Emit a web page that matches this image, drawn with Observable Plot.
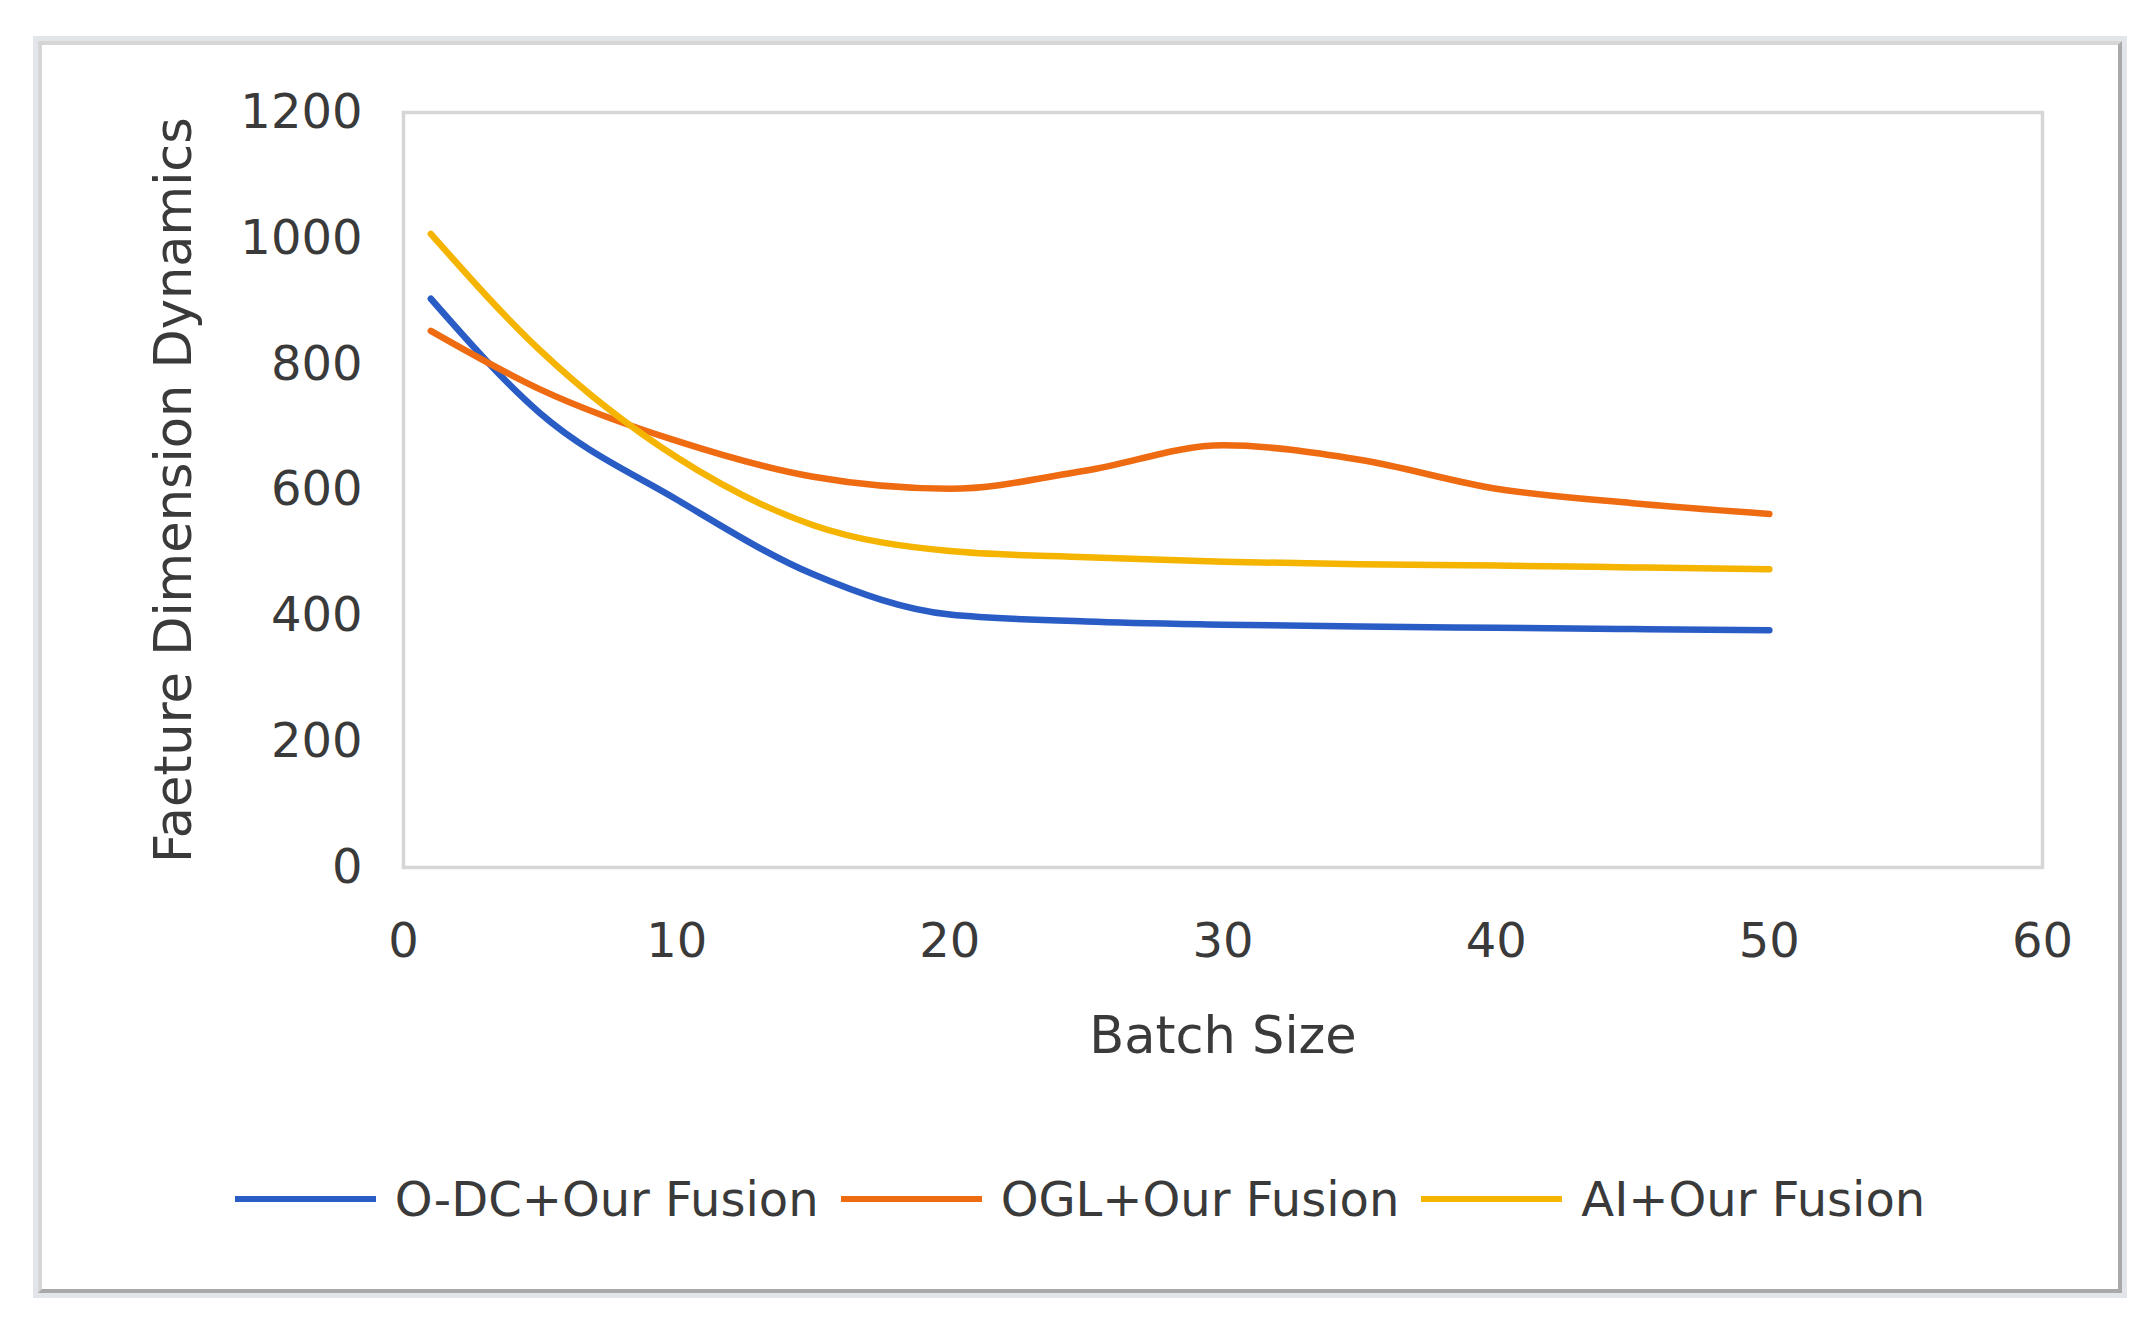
<!DOCTYPE html>
<html>
<head>
<meta charset="utf-8">
<script src="https://cdn.jsdelivr.net/npm/d3@7"></script>
<script src="https://cdn.jsdelivr.net/npm/@observablehq/plot@0.6"></script>
<style>
  html, body { margin: 0; padding: 0; background: #fff; overflow: hidden; width: 2142px; height: 1328px; }
  #frame { position: absolute; left: 33px; top: 36px; width: 2094px; height: 1262px; box-sizing: border-box; border: 5px solid #e2e5e9; }
  #frame-inner { position: absolute; left: 0; top: 0; right: 0; bottom: 0; border-style: solid; border-width: 4px; border-color: #d6d6d6 #a9a9a9 #a9a9a9 #d6d6d6; background: #fff; }
  #chart { position: absolute; left: 0; top: 0; }
  #legend { position: absolute; left: 33px; width: 2094px; top: 1170px; height: 58px; display: flex; justify-content: center; align-items: center;
            font-family: "DejaVu Sans", sans-serif; font-size: 48px; color: #3a3a3a; }
  .item { display: flex; align-items: center; margin: 0 11px; }
  .sw { display: inline-block; width: 141px; height: 6px; margin-right: 19px; }
</style>
</head>
<body>
<div id="frame"><div id="frame-inner"></div></div>
<div id="chart"></div>
<div id="legend"></div>
<script>
// ---- data ----
const batchSizes = [1, 5, 10, 15, 20, 25, 30, 35, 40, 45, 50];
const odcFusion = [904, 722, 585, 466, 402, 391, 386, 383, 381, 379, 377];
const oglFusion = [853, 760, 678, 621, 602, 631, 671, 648, 602, 579, 562];
const aiFusion  = [1007, 822, 652, 544, 503, 493, 486, 482, 480, 477, 474];
const seriesNames = ["O-DC+Our Fusion", "OGL+Our Fusion", "AI+Our Fusion"];
const seriesColors = ["#2a5cc6", "#ee6b12", "#f4b400"];
const xTicks = [0, 10, 20, 30, 40, 50, 60];
const yTicks = [0, 200, 400, 600, 800, 1000, 1200];
const xTitle = "Batch Size";
const yTitle = "Faeture Dimension Dynamics";

const seriesValues = [odcFusion, oglFusion, aiFusion];
const rows = seriesNames.flatMap((name, s) =>
  batchSizes.map((x, i) => ({series: name, x, y: seriesValues[s][i]}))
);

const H = 1100;
const chart = Plot.plot({
  width: 2142,
  height: H,
  marginLeft: 403,
  marginRight: 100,
  marginTop: 112,
  marginBottom: H - 867,
  style: {fontFamily: "'DejaVu Sans', sans-serif", color: "#3a3a3a", background: "transparent", overflow: "visible"},
  x: {domain: [0, 60]},
  y: {domain: [0, 1200]},
  color: {domain: seriesNames, range: seriesColors},
  marks: [
    Plot.frame({stroke: "#d6d6d6", strokeWidth: 3.5}),
    Plot.axisX({ticks: xTicks, tickFormat: d3.format("d"), tickSize: 0, tickPadding: 55, fontSize: 48, label: null}),
    Plot.axisX({ticks: [], label: xTitle, labelAnchor: "center", labelOffset: 185, labelArrow: "none", fontSize: 51}),
    Plot.axisY({ticks: yTicks, tickFormat: d3.format("d"), tickSize: 0, tickPadding: 41, fontSize: 48, label: null}),
    Plot.axisY({ticks: [], label: yTitle, labelAnchor: "center", labelOffset: 249, labelArrow: "none", fontSize: 51}),
    Plot.line(rows, {x: "x", y: "y", z: "series", stroke: "series", strokeWidth: 6.5, curve: "monotone-x"})
  ]
});
document.getElementById("chart").appendChild(chart);

const legend = document.getElementById("legend");
seriesNames.forEach((name, i) => {
  const item = document.createElement("div");
  item.className = "item";
  const sw = document.createElement("span");
  sw.className = "sw";
  sw.style.background = seriesColors[i];
  const label = document.createElement("span");
  label.textContent = name;
  item.appendChild(sw);
  item.appendChild(label);
  legend.appendChild(item);
});
</script>
</body>
</html>
